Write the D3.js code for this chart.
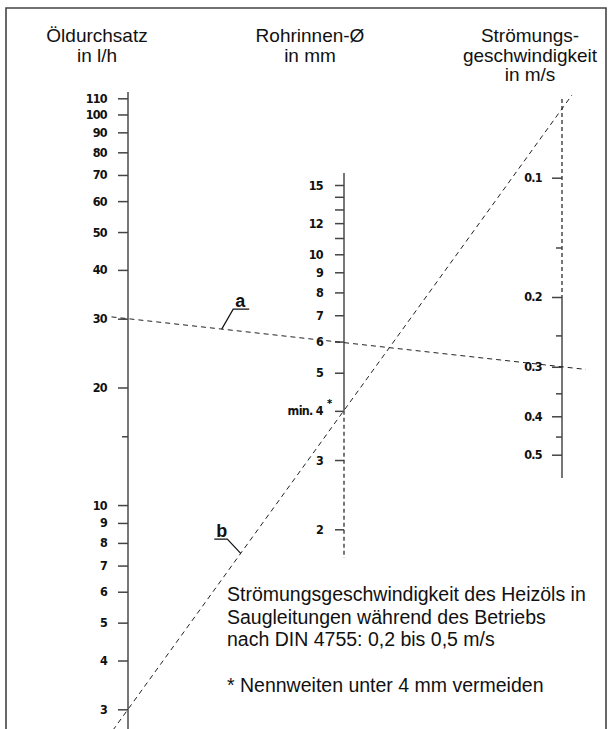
<!DOCTYPE html>
<head>
    <meta charset="utf-8">
    <script src="https://d3js.org/d3.v7.min.js"></script>
    <style>
        body {
            margin: 0;
            background: #fff;
        }
        .title, .note {
            font-family: "Liberation Sans", Arial, sans-serif;
            fill: #111;
        }
        .axis text {
            font-family: "DejaVu Sans Condensed", "Liberation Sans Narrow", sans-serif;
            font-weight: bold;
            font-size: 12.5px;
            letter-spacing: -0.7px;
            fill: #111;
        }
        .axis line {
            stroke: #444;
            stroke-width: 1.5px;
        }
        .axis .domain {
            display: none;
        }
    </style>
</head>

<body>
<div id="block"></div>
<script>
    // flow rate in l/h (left scale)
    var flowTicks = [110, 100, 90, 80, 70, 60, 50, 40, 30, 20, 10, 9, 8, 7, 6, 5, 4, 3];
    var flowMinor = [15];
    // inner pipe diameter in mm (middle scale)
    var diamTicks = [15, 12, 10, 9, 8, 7, 6, 5, 4, 3, 2];
    var diamMinor = [14, 13, 11];
    // flow velocity in m/s (right scale)
    var veloTicks = [0.1, 0.2, 0.3, 0.4, 0.5];
    var veloMinor = [0.15, 0.25, 0.35, 0.45];

    // the two example readings
    var lineNames = ["a", "b"];
    var lineFlow = [30, 3];
    var lineDiam = [6, 4];
    var lineVelo = [0.3, 0.067];

    var width = 612;
    var height = 729;

    var xFlow = 128, xDiam = 344, xVelo = 562;

    var svg = d3.select("#block")
        .append("svg")
        .attr("width", width)
        .attr("height", height);

    // frame, open at the bottom
    svg.append("path")
        .attr("d", "M6," + height + "V8H606V" + height)
        .attr("fill", "none")
        .attr("stroke", "#444")
        .attr("stroke-width", 1.6);

    var yFlow = d3.scaleLog().domain([110, 3]).range([98.3, 709.3]);
    var yDiam = d3.scaleLog().domain([15, 2]).range([185, 529.3]);
    var yVelo = d3.scaleLog().domain([0.1, 0.5]).range([177.7, 454.7]);

    // axis lines (dashed outside the usable range)
    function axisLine(x, y0, y1, dashed) {
        svg.append("line")
            .attr("x1", x).attr("x2", x)
            .attr("y1", y0).attr("y2", y1)
            .attr("stroke", "#555")
            .attr("stroke-width", 1.6)
            .attr("stroke-dasharray", dashed ? "4,3" : null);
    }
    axisLine(xFlow, 92, height, false);
    axisLine(xDiam, 173, yDiam(4), false);
    axisLine(xDiam, yDiam(4), 558, true);
    axisLine(xVelo, 99, yVelo(0.2), true);
    axisLine(xVelo, yVelo(0.2), 478, false);

    function drawAxis(scale, x, values, size, padding, format) {
        var axis = d3.axisLeft(scale)
            .tickValues(values)
            .tickSize(size)
            .tickPadding(padding)
            .tickFormat(format);
        return svg.append("g")
            .attr("class", "axis")
            .attr("transform", "translate(" + x + ",0)")
            .call(axis);
    }

    drawAxis(yFlow, xFlow, flowTicks, 10, 11, function (d) { return d; });
    drawAxis(yFlow, xFlow, flowMinor, 6, 0, function () { return ""; });

    drawAxis(yDiam, xDiam, diamTicks, 9, 12, function (d) { return d === 4 ? "min. 4" : d; });
    drawAxis(yDiam, xDiam, diamMinor, 9, 0, function () { return ""; });

    drawAxis(yVelo, xVelo, veloTicks, 10, 10, function (d) { return d; });
    drawAxis(yVelo, xVelo, veloMinor, 6, 0, function () { return ""; });

    // asterisk next to "min. 4"
    svg.append("text")
        .attr("x", xDiam - 17)
        .attr("y", yDiam(4) - 4)
        .style("font-family", "DejaVu Sans Condensed, sans-serif")
        .style("font-weight", "bold")
        .style("font-size", "11px")
        .text("*");

    // reading lines, drawn from the left scale to the right scale and a bit beyond
    var extend = { a: [-0.038, 1.055], b: [-0.035, 1.023] };
    lineNames.forEach(function (name, i) {
        var p0 = [xFlow, yFlow(lineFlow[i])];
        var p1 = [xVelo, yVelo(lineVelo[i])];
        var t = extend[name];
        var at = function (s) {
            return [p0[0] + (p1[0] - p0[0]) * s, p0[1] + (p1[1] - p0[1]) * s];
        };
        var a = at(t[0]), b = at(t[1]);
        svg.append("line")
            .attr("x1", a[0]).attr("y1", a[1])
            .attr("x2", b[0]).attr("y2", b[1])
            .attr("stroke", "#222")
            .attr("stroke-width", 1)
            .attr("stroke-dasharray", "5,4");
    });

    // leader labels for a and b
    function leader(name, pointX, lineIndex, dx, dy, ulen) {
        var p0 = [xFlow, yFlow(lineFlow[lineIndex])];
        var p1 = [xVelo, yVelo(lineVelo[lineIndex])];
        var py = p0[1] + (p1[1] - p0[1]) * (pointX - p0[0]) / (p1[0] - p0[0]);
        var kx = pointX + dx, ky = py + dy;
        var ux = dx > 0 ? kx + ulen : kx - ulen;
        svg.append("path")
            .attr("d", "M" + pointX + "," + py + "L" + kx + "," + ky + "H" + ux)
            .attr("fill", "none")
            .attr("stroke", "#111")
            .attr("stroke-width", 1.2);
        svg.append("text")
            .attr("class", "title")
            .attr("x", Math.min(kx, ux) + 2)
            .attr("y", ky - 2)
            .style("font-size", "18px")
            .style("font-weight", "bold")
            .text(name);
    }
    leader("a", 221.7, 0, 11.5, -20, 16);
    leader("b", 240.7, 1, -13.4, -14.3, 13);

    // column titles
    var titles = [
        { x: 97, lines: ["Öldurchsatz", "in l/h"] },
        { x: 310, lines: ["Rohrinnen-Ø", "in mm"] },
        { x: 530, lines: ["Strömungs-", "geschwindigkeit", "in m/s"] }
    ];
    titles.forEach(function (t) {
        svg.append("text")
            .attr("class", "title")
            .attr("text-anchor", "middle")
            .style("font-size", "19px")
            .selectAll("tspan")
            .data(t.lines)
            .enter().append("tspan")
            .attr("x", t.x)
            .attr("y", function (d, i) { return 42 + i * 19.5; })
            .text(function (d) { return d; });
    });

    // note
    var noteLines = [
        "Strömungsgeschwindigkeit des Heizöls in",
        "Saugleitungen während des Betriebs",
        "nach DIN 4755: 0,2 bis 0,5 m/s",
        "",
        "* Nennweiten unter 4 mm vermeiden"
    ];
    svg.append("text")
        .attr("class", "note")
        .style("font-size", "19.5px")
        .selectAll("tspan")
        .data(noteLines)
        .enter().append("tspan")
        .attr("x", 227)
        .attr("y", function (d, i) { return 601 + i * 22.7; })
        .text(function (d) { return d; });
</script>
</body>
